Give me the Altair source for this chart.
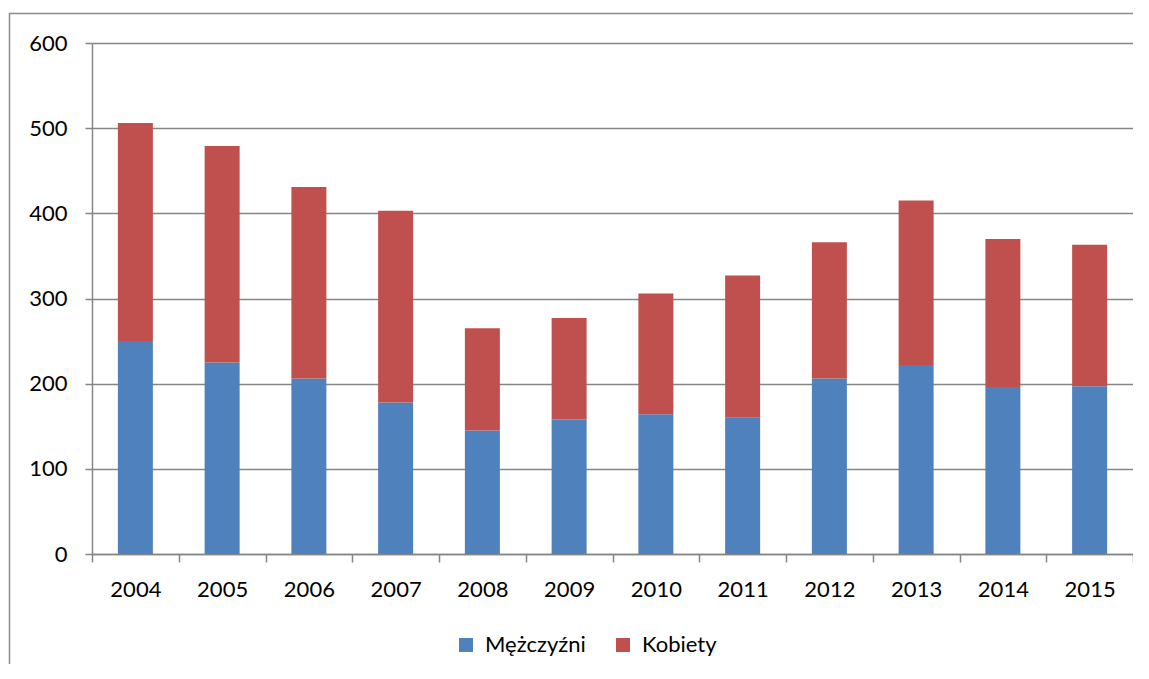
import altair as alt
import pandas as pd

years = [2004, 2005, 2006, 2007, 2008, 2009, 2010, 2011, 2012, 2013, 2014, 2015]
men = [250, 225, 206, 178, 145, 158, 164, 160, 206, 222, 196, 197]
women = [256, 254, 225, 225, 120, 119, 142, 167, 160, 193, 174, 166]
series = ["Mężczyźni", "Kobiety"]
colors = ["#4F81BD", "#C0504D"]
y_ticks = [0, 100, 200, 300, 400, 500, 600]

rows = []
for i, y in enumerate(years):
    rows.append({"Rok": y, "Grupa": series[0], "Wartość": men[i], "ord": 0})
    rows.append({"Rok": y, "Grupa": series[1], "Wartość": women[i], "ord": 1})
df = pd.DataFrame(rows)

boundaries = [years[0] - 0.5 + k for k in range(len(years) + 1)]

FONT = "Lato"
GRAY = "#868686"

x_scale = alt.Scale(domain=[years[0] - 0.5, years[-1] + 0.5], nice=False, zero=False, padding=0)

bars = alt.Chart(df).mark_bar(size=35).encode(
    x=alt.X(
        "Rok:Q",
        scale=x_scale,
        axis=alt.Axis(
            orient="bottom",
            values=years,
            format="d",
            labelOverlap=False,
            grid=False,
            title=None,
            domainColor=GRAY,
            domainWidth=1.5,
            ticks=False,
            labelPadding=25,
            labelFont=FONT,
            labelFontSize=22,
            labelColor="#000000",
        ),
    ),
    y=alt.Y(
        "Wartość:Q",
        stack="zero",
        scale=alt.Scale(domain=[0, 600], nice=False),
        axis=alt.Axis(
            values=y_ticks,
            grid=True,
            gridColor=GRAY,
            gridWidth=1.3,
            title=None,
            domainColor=GRAY,
            domainWidth=1.5,
            tickColor=GRAY,
            tickWidth=1.5,
            tickSize=7,
            labelPadding=18,
            labelFont=FONT,
            labelFontSize=22,
            labelColor="#000000",
        ),
    ),
    color=alt.Color(
        "Grupa:N",
        scale=alt.Scale(domain=series, range=colors),
        legend=alt.Legend(
            title=None,
            orient="none",
            direction="horizontal",
            legendX=363,
            legendY=591,
            symbolType="square",
            symbolSize=196,
            symbolStrokeWidth=0,
            symbolOpacity=1,
            labelFont=FONT,
            labelFontSize=22,
            labelColor="#000000",
            labelOffset=8,
            columnPadding=26,
            padding=0,
        ),
    ),
    order=alt.Order("ord:Q", sort="ascending"),
)

tick_layer = alt.Chart(df).mark_point(opacity=0).encode(
    x=alt.X(
        "Rok:Q",
        scale=x_scale,
        axis=alt.Axis(
            orient="bottom",
            values=boundaries,
            labels=False,
            grid=False,
            domain=False,
            title=None,
            tickColor=GRAY,
            tickWidth=1.5,
            tickSize=8,
        ),
    ),
)

frame = alt.Chart(pd.DataFrame({"f": [0]})).mark_rect(
    fillOpacity=0, stroke="#8c8c8c", strokeWidth=1.5
).encode(
    x=alt.value(-82.5), x2=alt.value(1300), y=alt.value(-29.5), y2=alt.value(900)
)

chart = alt.layer(frame, bars, tick_layer).resolve_axis(x="independent").properties(
    width=1041,
    height=511,
    autosize=alt.AutoSizeParams(type="none"),
    padding={"left": 84, "top": 35, "right": 0, "bottom": 110},
    background="white",
).configure_view(stroke=None)

chart.save("out.html", embed_options={"renderer": "svg", "actions": False})
